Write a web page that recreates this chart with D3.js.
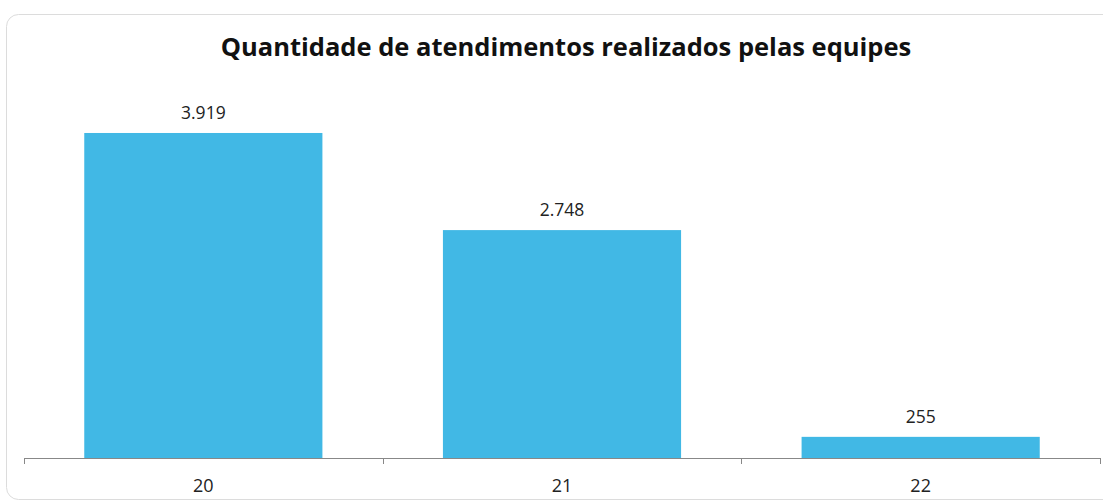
<!DOCTYPE html>
<html>
<head>
<meta charset="utf-8">
<script src="https://cdn.jsdelivr.net/npm/d3@7"></script>
<style>
  body { margin: 0; background: #fff; }
</style>
</head>
<body>
<script>
const categories = ['20', '21', '22']
const values = [3919, 2748, 255]
const valueLabels = ['3.919', '2.748', '255']
const title = 'Quantidade de atendimentos realizados pelas equipes'

const width = 1103
const height = 502
const baseY = 458

const svg = d3.select('body')
  .append('svg')
  .attr('width', width)
  .attr('height', height)
  .style('font-family', "'Open Sans', 'Noto Sans', sans-serif")

// card frame
svg.append('rect')
  .attr('x', 6.5)
  .attr('y', 14.5)
  .attr('width', 1120)
  .attr('height', 485)
  .attr('rx', 12)
  .attr('fill', '#fff')
  .attr('stroke', '#dcdcdc')

svg.append('text')
  .attr('x', 566)
  .attr('y', 56)
  .attr('text-anchor', 'middle')
  .style('font-size', '25.5px')
  .style('font-weight', 'bold')
  .attr('fill', '#111')
  .text(title)

const x = d3.scaleBand()
  .domain(categories)
  .range([24, 1100])
  .paddingInner(0.336)
  .paddingOuter(0.168)

const y = d3.scaleLinear()
  .domain([0, 4500])
  .range([baseY, baseY - 373.2])

svg.selectAll('.bar')
  .data(values)
  .enter()
  .append('rect')
  .attr('class', 'bar')
  .attr('x', (d, i) => x(categories[i]))
  .attr('y', (d) => y(d))
  .attr('width', x.bandwidth())
  .attr('height', (d) => y(0) - y(d))
  .attr('fill', '#41b8e5')

svg.selectAll('.val')
  .data(values)
  .enter()
  .append('text')
  .attr('class', 'val')
  .attr('x', (d, i) => x(categories[i]) + x.bandwidth() / 2)
  .attr('y', (d) => y(d) - 14)
  .attr('text-anchor', 'middle')
  .style('font-size', '17.5px')
  .attr('fill', '#222')
  .text((d, i) => valueLabels[i])

// axis with ticks between categories
const step = x.step()
const axis = svg.append('g')
axis.append('line')
  .attr('x1', 24).attr('x2', 1100)
  .attr('y1', baseY + 0.5).attr('y2', baseY + 0.5)
  .attr('stroke', '#888')
d3.range(categories.length + 1).forEach((i) => {
  const tx = Math.round(24 + i * step) + 0.5
  axis.append('line')
    .attr('x1', tx).attr('x2', tx)
    .attr('y1', baseY).attr('y2', baseY + 6)
    .attr('stroke', '#888')
})

svg.selectAll('.cat')
  .data(categories)
  .enter()
  .append('text')
  .attr('class', 'cat')
  .attr('x', (d) => x(d) + x.bandwidth() / 2)
  .attr('y', 492)
  .attr('text-anchor', 'middle')
  .style('font-size', '18px')
  .attr('fill', '#222')
  .text((d) => d)
</script>
</body>
</html>
